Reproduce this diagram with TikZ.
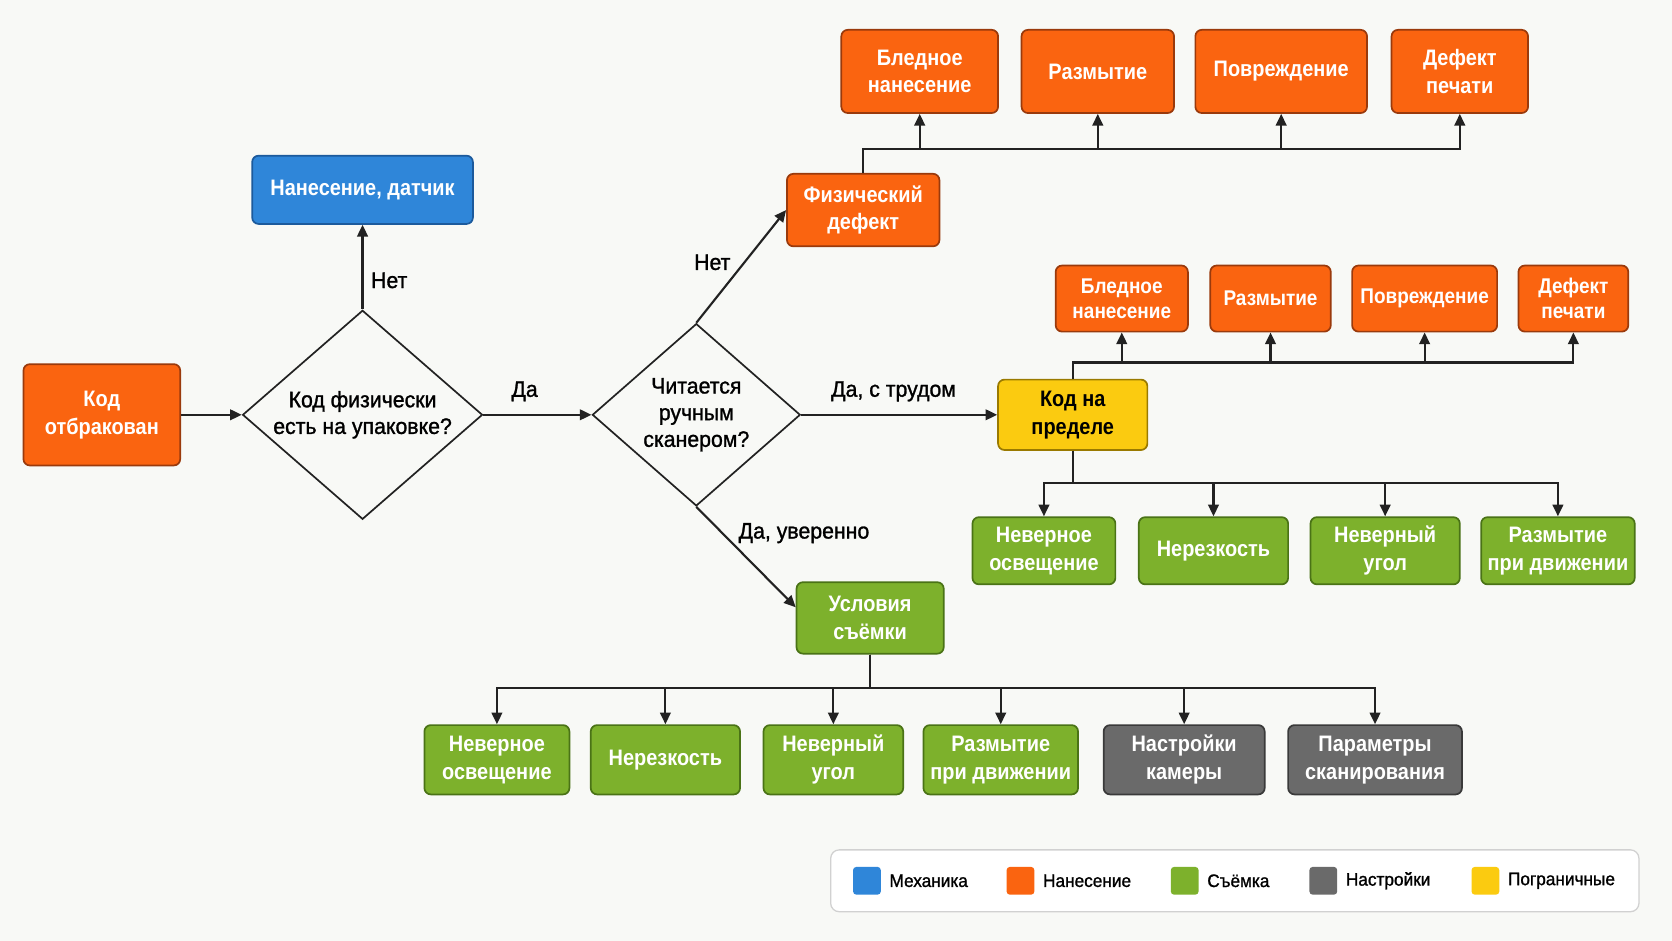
\documentclass[tikz,border=0pt]{standalone}
\usepackage{fontspec}
\setmainfont{Liberation Sans}[FakeStretch=0.89]
\newfontfamily\medfont{Liberation Sans}[FakeStretch=0.95, FakeBold=1.2]
\usetikzlibrary{shapes.geometric,arrows.meta}
\definecolor{bg}{HTML}{F8F9F6}
\definecolor{orf}{HTML}{FA6410}
\definecolor{ord}{HTML}{9A3A0C}
\definecolor{blf}{HTML}{2F86D9}
\definecolor{bld}{HTML}{1C5A9C}
\definecolor{grf}{HTML}{7DB12C}
\definecolor{grd}{HTML}{4A7316}
\definecolor{gyf}{HTML}{6A6A6A}
\definecolor{gyd}{HTML}{3A3A3A}
\definecolor{ylf}{HTML}{FBCB10}
\definecolor{yld}{HTML}{9A7A00}
\definecolor{ln}{HTML}{222222}
\begin{document}
\begin{tikzpicture}[x=1pt,y=-1pt,
  box/.style={rectangle, rounded corners=6pt, line width=1.6pt, inner sep=0pt, align=center,
    font=\fontsize{21}{26}\selectfont\bfseries, text=white},
  sz/.style 2 args={minimum width=#1pt, minimum height=#2pt},
  orangebox/.style={box, fill=orf, draw=ord},
  smallorange/.style={orangebox, font=\fontsize{20}{24}\selectfont\bfseries},
  bluebox/.style={box, fill=blf, draw=bld},
  greenbox/.style={box, fill=grf, draw=grd},
  graybox/.style={box, fill=gyf, draw=gyd},
  yellowbox/.style={box, fill=ylf, draw=yld, text=black},
  decision/.style={diamond, draw=ln, line width=1.6pt, inner sep=0pt, aspect=1.15, align=center,
    font=\medfont\fontsize{21}{25}\selectfont},
  arr/.style={draw=ln, line width=2pt, -{Triangle[length=11pt,width=10pt]}},
  lbl/.style={font=\medfont\fontsize{21}{24}\selectfont, text=black, inner sep=0pt},
  legsq/.style={rectangle, rounded corners=3pt, minimum width=26pt, minimum height=26pt, inner sep=0pt},
  legtxt/.style={font=\medfont\fontsize{17}{19}\selectfont, anchor=west, inner sep=0pt},
]
\fill[bg] (0,0) rectangle (1568,882);

% main flow
\node[orangebox, sz={147}{95}] (start) at (95.5,389) {Код\\отбракован};
\node[decision, minimum width=225pt, minimum height=196pt] (d1) at (340,389) {Код физически\\есть на упаковке?};
\node[bluebox, sz={207}{64}] (mech) at (340,178) {Нанесение, датчик};
\node[decision, minimum width=195pt, minimum height=171pt] (d2) at (653,389) {Читается\\ручным\\сканером?};
\node[orangebox, sz={143}{68}] (phys) at (809.5,197) {Физический\\дефект};
\node[yellowbox, sz={140}{66}] (lim) at (1006,389) {Код на\\пределе};
\node[greenbox, sz={138}{67}] (cond) at (816,579.5) {Условия\\съёмки};

% top orange row
\node[orangebox, sz={147}{78}] (t1) at (862.5,67) {Бледное\\нанесение};
\node[orangebox, sz={143}{78}] (t2) at (1029.5,67) {Размытие};
\node[orangebox, sz={161}{78}] (t3) at (1201.5,67) {Повреждение};
\node[orangebox, sz={128}{78}] (t4) at (1369,67) {Дефект\\печати};

% second orange row
\node[smallorange, sz={124}{62}] (u1) at (1052,280) {Бледное\\нанесение};
\node[smallorange, sz={113}{62}] (u2) at (1191.5,280) {Размытие};
\node[smallorange, sz={136}{62}] (u3) at (1336,280) {Повреждение};
\node[smallorange, sz={103}{62}] (u4) at (1475.5,280) {Дефект\\печати};

% right green row
\node[greenbox, sz={134}{63}] (g1) at (979,516.5) {Неверное\\освещение};
\node[greenbox, sz={140}{63}] (g2) at (1138,516.5) {Нерезкость};
\node[greenbox, sz={140}{63}] (g3) at (1299,516.5) {Неверный\\угол};
\node[greenbox, sz={144}{63}] (g4) at (1461,516.5) {Размытие\\при движении};

% bottom row
\node[greenbox, sz={136}{65}] (h1) at (466,712.5) {Неверное\\освещение};
\node[greenbox, sz={140}{65}] (h2) at (624,712.5) {Нерезкость};
\node[greenbox, sz={131}{65}] (h3) at (781.5,712.5) {Неверный\\угол};
\node[greenbox, sz={145}{65}] (h4) at (938.5,712.5) {Размытие\\при движении};
\node[graybox, sz={151}{65}] (h5) at (1110.5,712.5) {Настройки\\камеры};
\node[graybox, sz={163}{65}] (h6) at (1289.5,712.5) {Параметры\\сканирования};

% connectors
\draw[arr] (start.east) -- (d1.west);
\draw[arr] (d1.north) -- (mech.south);
\node[lbl] (lno1) at (365,263) {Нет};
\draw[arr] (d1.east) -- (d2.west);
\node[lbl] (lyes1) at (492,367) {Да};
\draw[arr] (d2.north) -- (phys.west);
\node[lbl] (lno2) at (668,246) {Нет};
\draw[arr] (d2.east) -- (lim.west);
\node[lbl] (lhard) at (838,367) {Да, с трудом};
\draw[arr] (d2.south) -- ([yshift=10pt]cond.west);
\node[lbl] (lsure) at (754,500) {Да, уверенно};

% tree from phys
\coordinate (jp) at (809.5,140);
\foreach \t in {t1,t2,t3,t4}{\draw[arr] (phys.north) -- (jp) -| (\t.south);}
% tree from lim up
\coordinate (ju) at (1006,340);
\foreach \t in {u1,u2,u3,u4}{\draw[arr] (lim.north) -- (ju) -| (\t.south);}
% tree from lim down
\coordinate (jg) at (1006,453);
\foreach \t in {g1,g2,g3,g4}{\draw[arr] (lim.south) -- (jg) -| (\t.north);}
% tree from cond down
\coordinate (jh) at (816,645);
\foreach \t in {h1,h2,h3,h4,h5,h6}{\draw[arr] (cond.south) -- (jh) -| (\t.north);}

% legend
\node[draw=black!18, fill=white, rounded corners=8pt, line width=1.2pt, minimum width=758pt, minimum height=58pt] (leg) at (1158,826) {};
\node[legsq, fill=blf] (s1) at (813,826) {};
\node[legtxt] (l1) at (834,826) {Механика};
\node[legsq, fill=orf] (s2) at (957,826) {};
\node[legtxt] (l2) at (978,826) {Нанесение};
\node[legsq, fill=grf] (s3) at (1111,826) {};
\node[legtxt] (l3) at (1132,826) {Съёмка};
\node[legsq, fill=gyf] (s4) at (1241,826) {};
\node[legtxt] (l4) at (1262,826) {Настройки};
\node[legsq, fill=ylf] (s5) at (1393,826) {};
\node[legtxt] (l5) at (1414,826) {Пограничные};
\end{tikzpicture}
\end{document}
